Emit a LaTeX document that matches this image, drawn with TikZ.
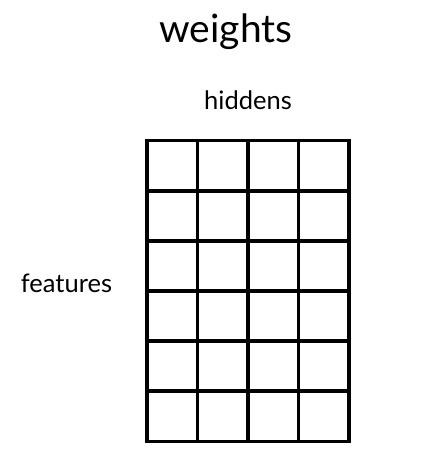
\documentclass[tikz,border=0pt]{standalone}
\usepackage{fontspec}
\setmainfont{Lato}

\begin{document}
\begin{tikzpicture}[x=1pt,y=-1pt]
                \useasboundingbox (0, 0) rectangle (435, 463);
                % labels
                \node [anchor=base] (weights) at (226, 42) {\fontsize{39}{42}\selectfont weights};
                \node [anchor=base] (hiddens) at (248, 109) {\fontsize{25.5}{29}\selectfont hiddens};
                \node [anchor=base] (features) at (66.5, 292) {\fontsize{25.5}{29}\selectfont features};
                % grid
                \draw [line width=3.3pt] (147, 140.5) rectangle (349, 441.5);
                \draw [line width=3.3pt] (197.5, 140.5) -- (197.5, 441.5);
                \draw [line width=3.3pt] (248, 140.5) -- (248, 441.5);
                \draw [line width=3.3pt] (298.5, 140.5) -- (298.5, 441.5);
                \draw [line width=3.3pt] (147, 191) -- (349, 191);
                \draw [line width=3.3pt] (147, 241) -- (349, 241);
                \draw [line width=3.3pt] (147, 291) -- (349, 291);
                \draw [line width=3.3pt] (147, 341) -- (349, 341);
                \draw [line width=3.3pt] (147, 391) -- (349, 391);
            \end{tikzpicture}
\end{document}
